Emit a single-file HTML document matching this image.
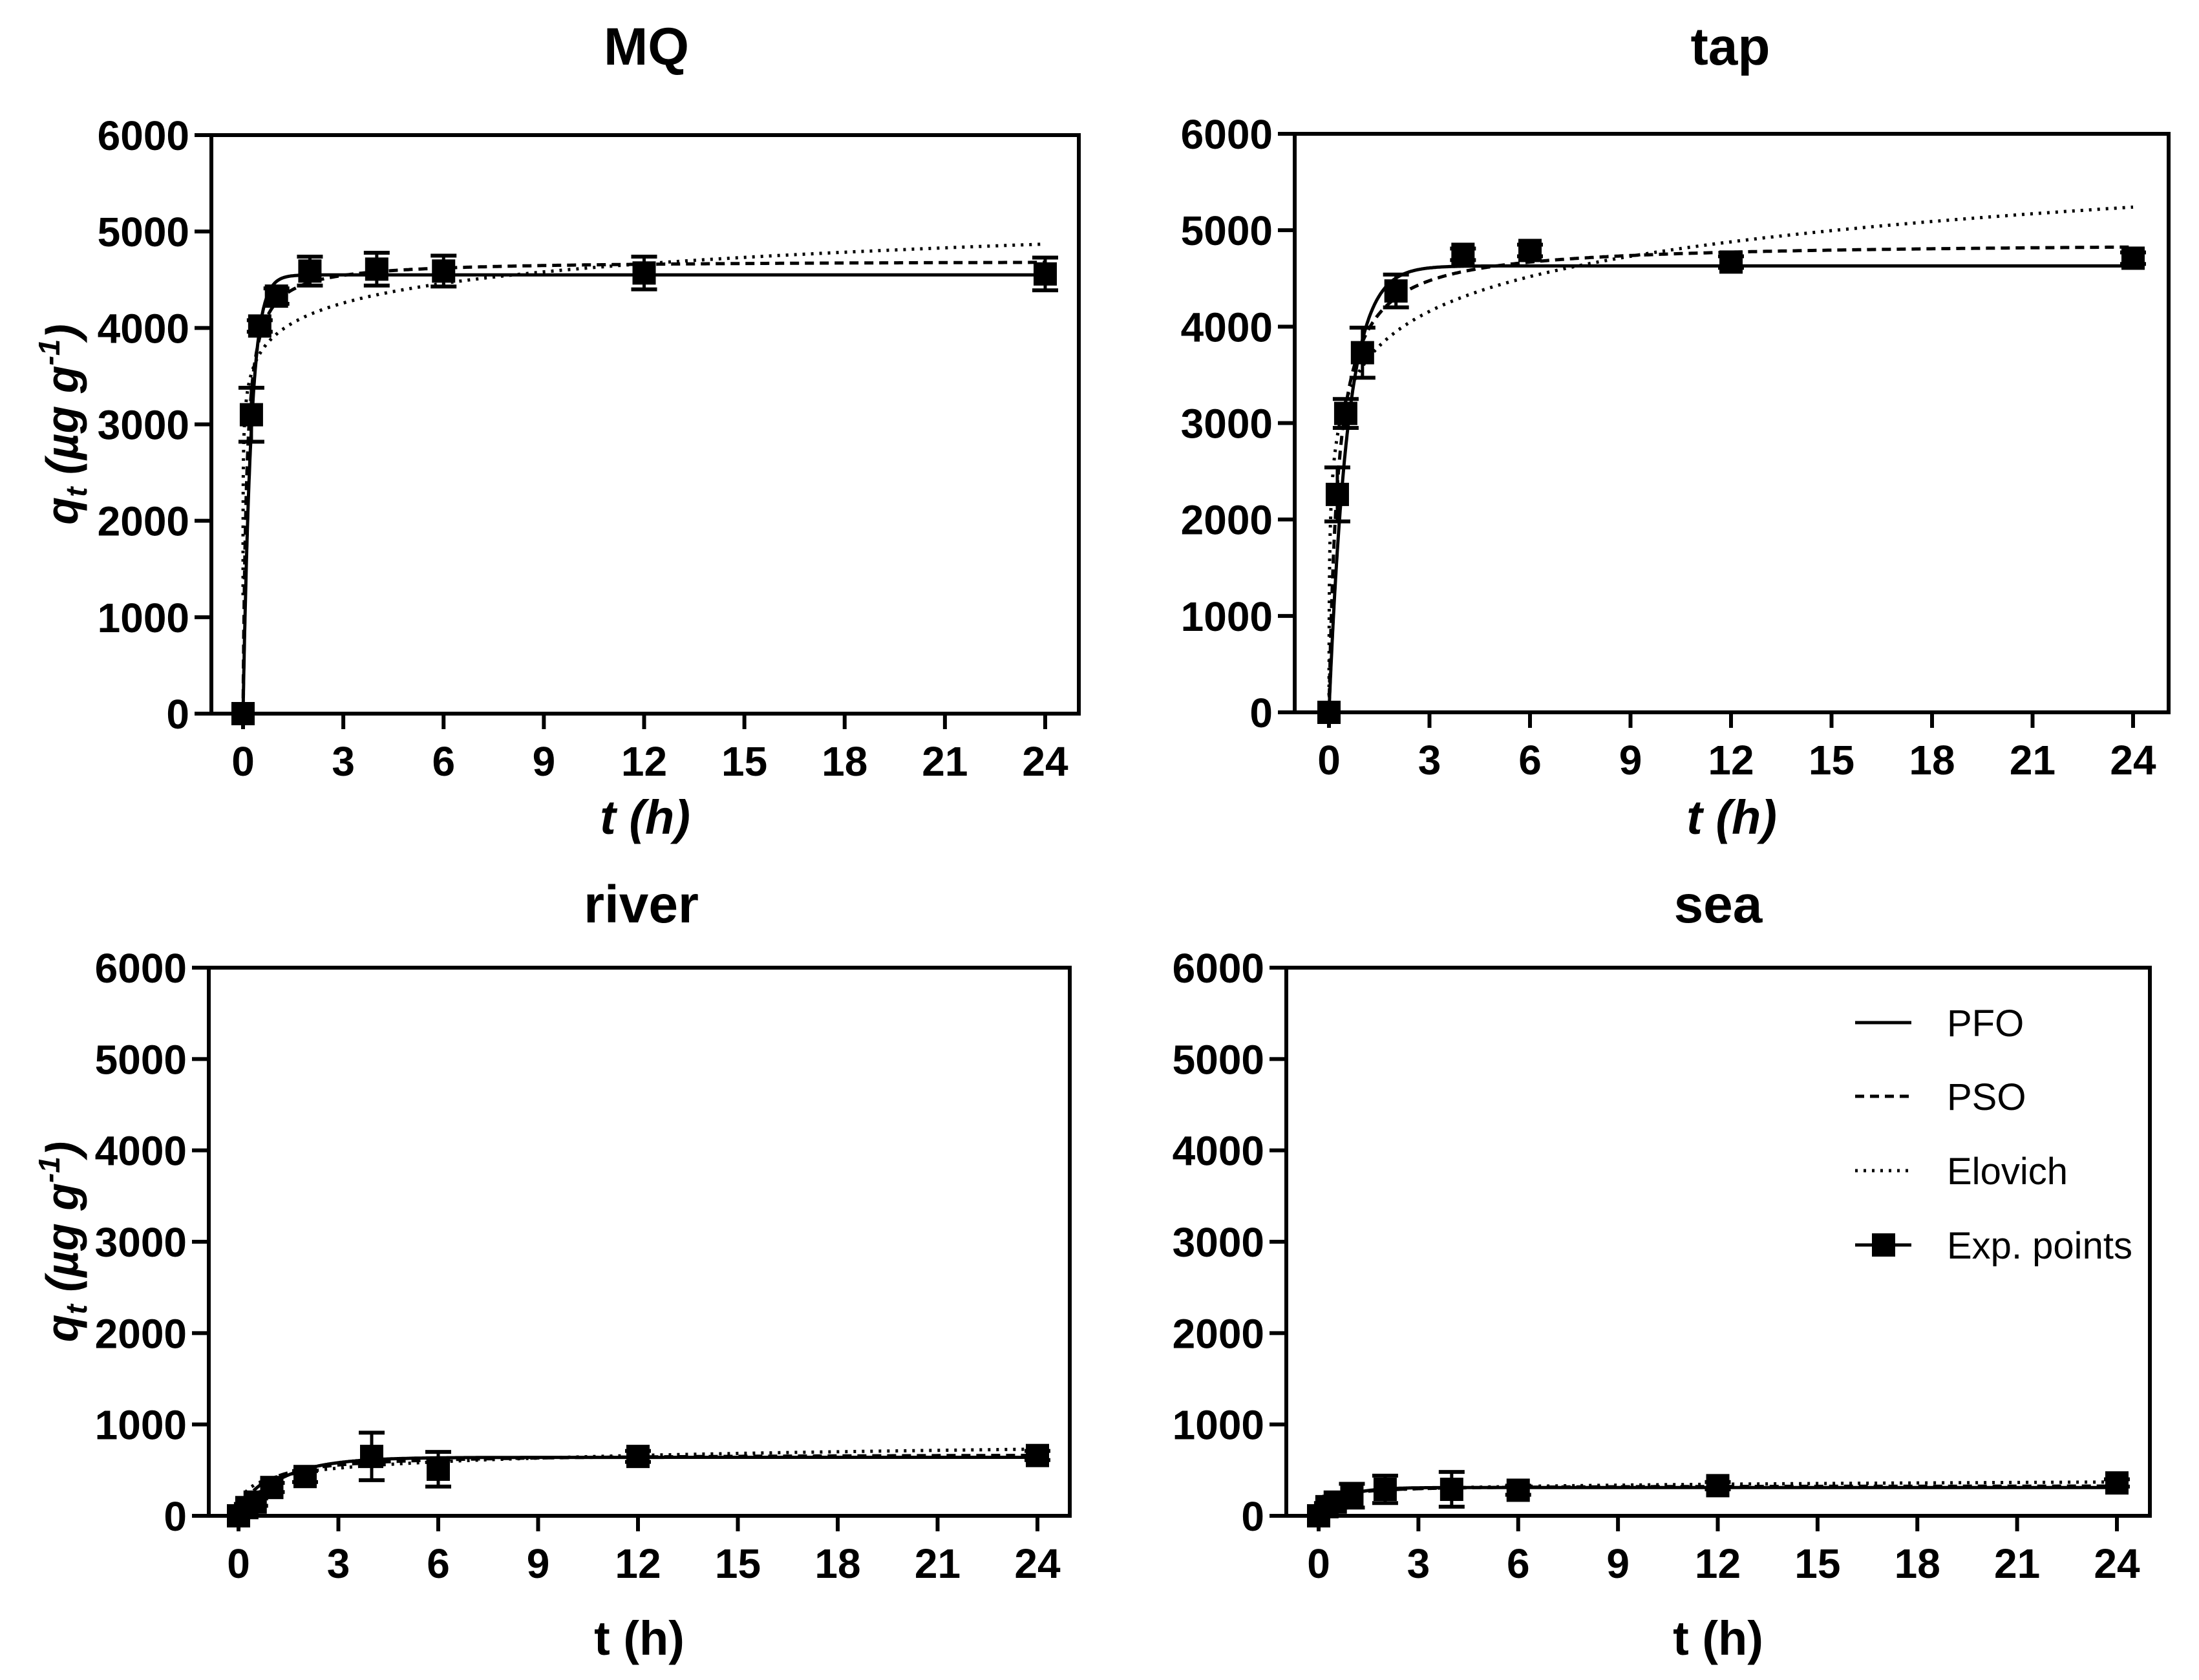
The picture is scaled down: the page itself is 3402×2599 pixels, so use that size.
<!DOCTYPE html>
<html><head><meta charset="utf-8">
<style>
html,body{margin:0;padding:0;background:#fff;}
svg{display:block;font-family:"Liberation Sans",Arial,sans-serif;}
</style></head>
<body>
<svg id="fig" width="3402" height="2599" viewBox="0 0 3402 2599" xmlns="http://www.w3.org/2000/svg"></svg>
<script>
const times = [0, 0.25, 0.5, 1, 2, 4, 6, 12, 24];
const mqValues = [0, 3100, 4020, 4330, 4590, 4610, 4590, 4570, 4560];
const mqErrors = [0, 280, 60, 80, 150, 170, 160, 170, 170];
const tapValues = [0, 2260, 3100, 3730, 4370, 4750, 4790, 4670, 4710];
const tapErrors = [0, 280, 150, 260, 170, 60, 60, 60, 60];
const riverValues = [0, 90, 150, 310, 430, 650, 510, 650, 660];
const riverErrors = [0, 40, 40, 50, 60, 260, 190, 60, 50];
const seaValues = [0, 100, 150, 220, 290, 290, 280, 330, 360];
const seaErrors = [0, 40, 60, 130, 150, 190, 50, 40, 40];
const pfoParams = [[4550, 4.2], [4630, 1.8], [640, 0.8], [310, 1.5]];
const psoParams = [[4700, 9.8], [4880, 3.7], [680, 1.5], [330, 3.0]];
const elovichParams = [[294, 4870], [520, 5240], [100, 730], [35, 370]];
const xTicks = [0, 3, 6, 9, 12, 15, 18, 21, 24];
const yTicks = [0, 1000, 2000, 3000, 4000, 5000, 6000];
const titles = ["MQ", "tap", "river", "sea"];
const legendLabels = ["PFO", "PSO", "Elovich", "Exp. points"];

const NS = "http://www.w3.org/2000/svg";
const svg = document.getElementById("fig");
function mk(tag, attrs, parent, text) {
  const e = document.createElementNS(NS, tag);
  for (const k in attrs) e.setAttribute(k, attrs[k]);
  if (text !== undefined) e.textContent = text;
  (parent || svg).appendChild(e);
  return e;
}
const panels = [
  {L:327, R:1669, x0:376, x24:1617, T:209, B:1104, tx:1000, ty:100, xt:1290, italic:true, ylab:true},
  {L:2003, R:3355, x0:2056, x24:3300, T:207, B:1102, tx:2677, ty:100, xt:1290, italic:true, ylab:false},
  {L:323, R:1655, x0:369, x24:1605, T:1497, B:2345, tx:992, ty:1427, xt:2560, italic:false, ylab:true},
  {L:1990, R:3326, x0:2040, x24:3275, T:1497, B:2345, tx:2658, ty:1427, xt:2560, italic:false, ylab:false}
];
const valueSets = [mqValues, tapValues, riverValues, seaValues];
const errorSets = [mqErrors, tapErrors, riverErrors, seaErrors];

panels.forEach((p, i) => {
  const g = mk("g", {});
  
  
  const xs = t => p.x0 + (p.x24 - p.x0) * t / 24;
  const ys = v => p.B - (p.B - p.T) * v / 6000;
  const tt = mk("text", {x:p.tx, y:p.ty, "text-anchor":"middle", "font-size":82, "font-weight":"bold"}, g, titles[i]);
  
  
  const fr = mk("rect", {x:p.L, y:p.T, width:p.R-p.L, height:p.B-p.T, fill:"none", stroke:"#000", "stroke-width":6}, g);
  
  
  yTicks.forEach(v => {
    const y = ys(v);
    mk("line", {x1:p.L-26, x2:p.L, y1:y, y2:y, stroke:"#000", "stroke-width":6}, g);
    const lb = mk("text", {x:p.L-34, y:y+23, "text-anchor":"end", "font-size":64, "font-weight":"bold"}, g, String(v));
    
    
  });
  xTicks.forEach(t => {
    const x = xs(t);
    mk("line", {x1:x, x2:x, y1:p.B, y2:p.B+24, stroke:"#000", "stroke-width":6}, g);
    const lb = mk("text", {x:x, y:p.B+96, "text-anchor":"middle", "font-size":64, "font-weight":"bold"}, g, String(t));
    
    
  });
  const xt = mk("text", {x:(p.L+p.R)/2, y:p.xt, "text-anchor":"middle", "font-size":74, "font-weight":"bold", "font-style":p.italic?"italic":"normal"}, g, "t (h)");
  
  
  if (p.ylab) {
    const cy = (p.T + p.B) / 2;
    const yt = mk("text", {x:0, y:0, transform:`translate(120 ${cy}) rotate(-90)`, "text-anchor":"middle", "font-size":70, "font-weight":"bold", "font-style":"italic"}, g);
    
    
    mk("tspan", {}, yt, "q");
    mk("tspan", {"font-size":46, dy:14}, yt, "t");
    mk("tspan", {dy:-14}, yt, " (µg g");
    mk("tspan", {"font-size":46, dy:-28}, yt, "-1");
    mk("tspan", {dy:28}, yt, ")");
  }
  const pfo = t => pfoParams[i][0] * (1 - Math.exp(-pfoParams[i][1] * t));
  const pso = t => { const q = psoParams[i][0], a = psoParams[i][1]; return q * a * t / (1 + a * t); };
  const elo = t => { const s = elovichParams[i][0], q24 = elovichParams[i][1]; return Math.max(0, q24 + s * Math.log(t / 24)); };
  const curve = (f, dash, name) => {
    let d = "";
    for (let k = 0; k <= 600; k++) {
      const t = 24 * Math.pow(k / 600, 2.2);
      d += (k ? "L" : "M") + xs(t).toFixed(1) + " " + ys(f(Math.max(t, 1e-4))).toFixed(1);
    }
    const el = mk("path", {d:d, fill:"none", stroke:"#000", "stroke-width":5, "stroke-dasharray":dash}, g);
    
    
  };
  curve(pfo, "none", "pfo-curve");
  curve(pso, "14 9", "pso-curve");
  curve(elo, "4 9", "elovich-curve");
  const vals = valueSets[i], errs = errorSets[i];
  times.forEach((t, k) => {
    const x = xs(t), y = ys(vals[k]);
    if (errs[k] > 0) {
      const y1 = ys(vals[k] + errs[k]), y2 = ys(vals[k] - errs[k]);
      mk("line", {x1:x, x2:x, y1:y1, y2:y2, stroke:"#000", "stroke-width":5}, g);
      mk("line", {x1:x-20, x2:x+20, y1:y1, y2:y1, stroke:"#000", "stroke-width":6}, g);
      mk("line", {x1:x-20, x2:x+20, y1:y2, y2:y2, stroke:"#000", "stroke-width":6}, g);
    }
    const sq = mk("rect", {x:x-18, y:y-18, width:36, height:36, fill:"#000"}, g);
    
    
  });
});

const lg = mk("g", {});


const legendDash = ["none", "14 9", "4 9", "none"];
const rowsY = [1582, 1696, 1811, 1926];
legendLabels.forEach((lab, k) => {
  const y = rowsY[k];
  mk("line", {x1:2870, x2:2957, y1:y, y2:y, stroke:"#000", "stroke-width":5, "stroke-dasharray":legendDash[k]}, lg);
  if (k === 3) mk("rect", {x:2896, y:y-18, width:36, height:36, fill:"#000"}, lg);
  const t = mk("text", {x:3012, y:y+21, "font-size":58}, lg, lab);
  
  
});
</script>
</body></html>
